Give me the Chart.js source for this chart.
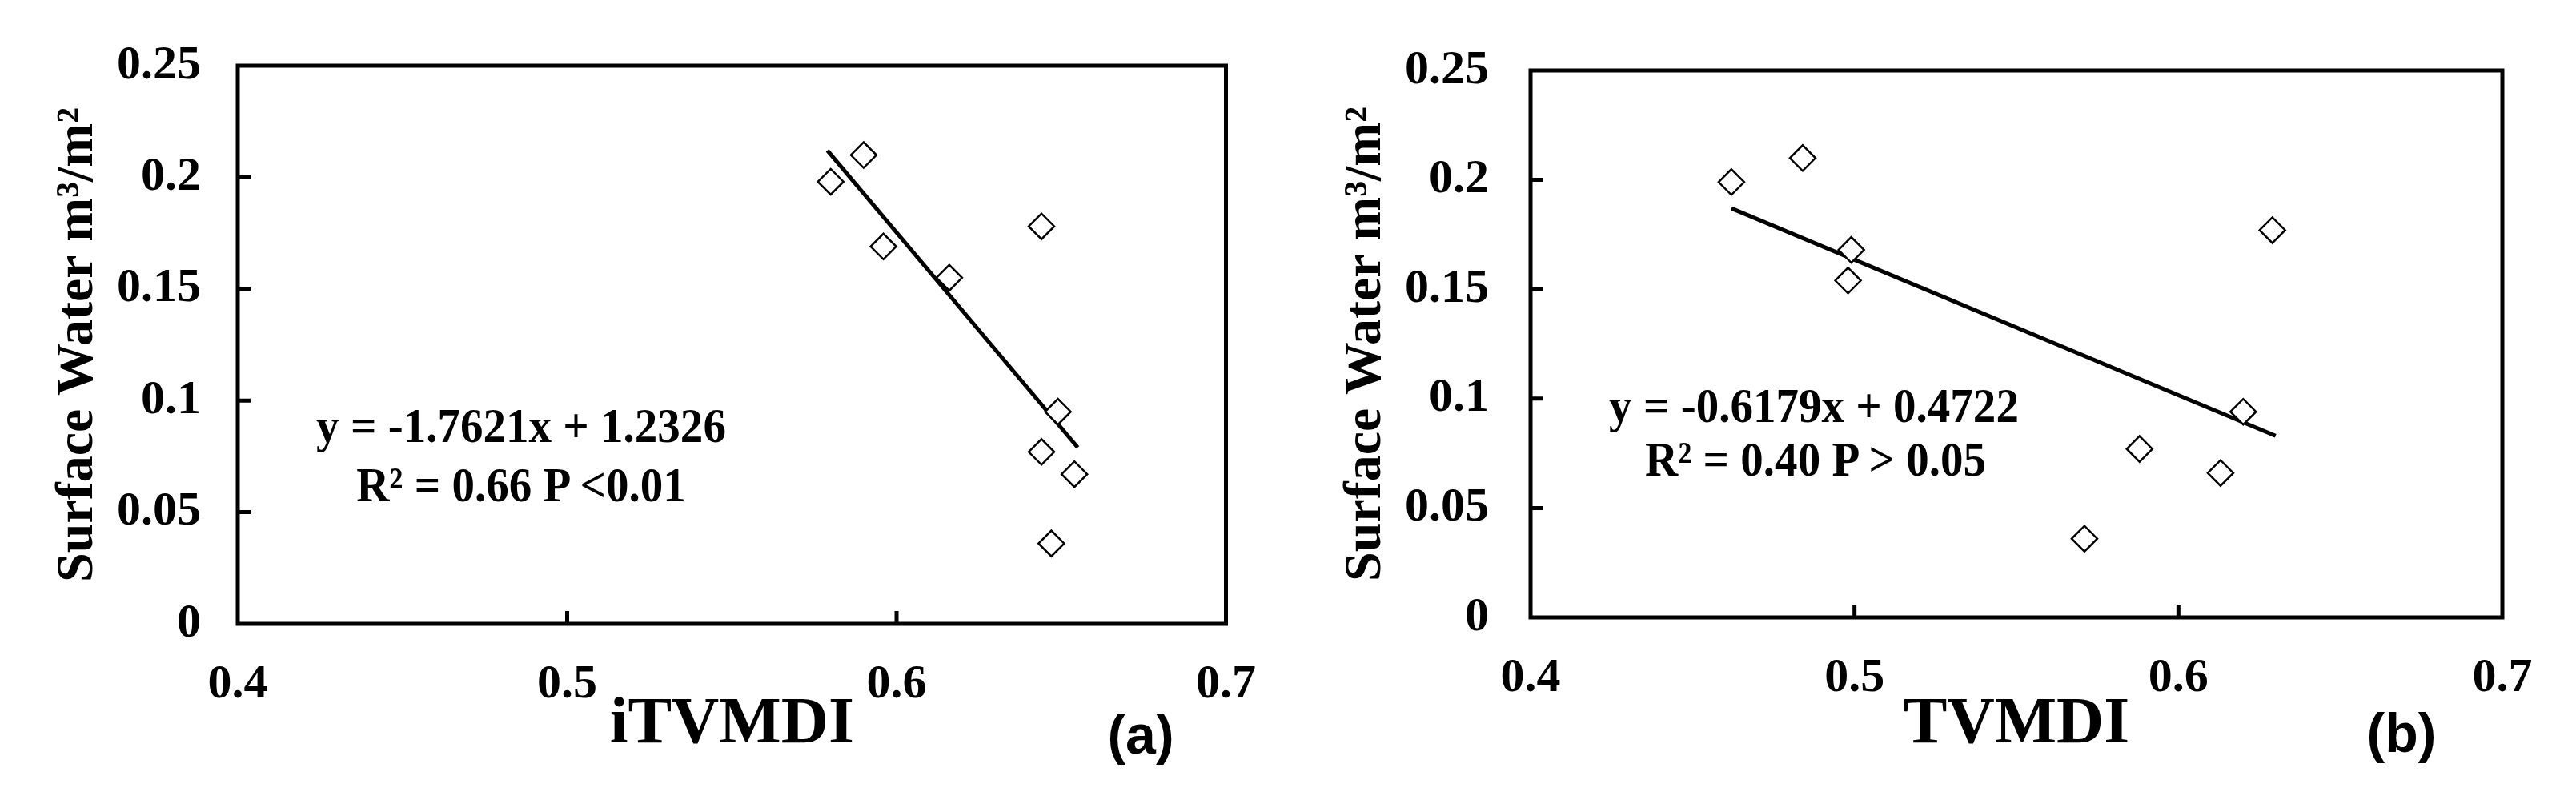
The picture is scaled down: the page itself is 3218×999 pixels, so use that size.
<!DOCTYPE html>
<html><head><meta charset="utf-8">
<script src="https://cdn.jsdelivr.net/npm/chart.js@4.4.1/dist/chart.umd.min.js"></script>
<style>
html,body{margin:0;padding:0;background:#fff;width:3218px;height:999px;overflow:hidden}
.box{position:absolute;top:0;width:1609px;height:999px}
.txt{position:absolute;font-family:"Liberation Serif",serif;font-weight:bold;font-size:62px;color:#000;white-space:nowrap;transform:translate(-50%,-50%) scaleX(0.92)}
.lab{position:absolute;font-family:"Liberation Sans",sans-serif;font-weight:bold;font-size:68px;color:#000;transform:translate(-50%,-50%)}
</style></head><body>
<div class="box" style="left:0"><canvas id="ca"></canvas></div>
<div class="box" style="left:1609px"><canvas id="cb"></canvas></div>
<div class="txt" style="left:651px;top:531px">y = -1.7621x + 1.2326</div>
<div class="txt" style="left:651px;top:605px">R² = 0.66 P &lt;0.01</div>
<div class="txt" style="left:2266px;top:506px">y = -0.6179x + 0.4722</div>
<div class="txt" style="left:2268px;top:573px">R² = 0.40 P &gt; 0.05</div>
<div class="lab" style="left:1425px;top:917px">(a)</div>
<div class="lab" style="left:3000px;top:915px">(b)</div>
<script>
const xTicks = [0.4, 0.5, 0.6, 0.7];
const yTicks = [0, 0.05, 0.1, 0.15, 0.2, 0.25];
const yLabels = ["0", "0.05", "0.1", "0.15", "0.2", "0.25"];

const itvmdiX = [0.580, 0.590, 0.596, 0.616, 0.644, 0.649, 0.644, 0.654, 0.647];
const waterA  = [0.198, 0.210, 0.169, 0.155, 0.178, 0.095, 0.077, 0.067, 0.036];
const trendAX = [0.579, 0.655];
const trendAY = [0.212, 0.079];

const tvmdiX  = [0.462, 0.484, 0.499, 0.498, 0.629, 0.620, 0.588, 0.613, 0.571];
const waterB  = [0.199, 0.210, 0.168, 0.154, 0.177, 0.094, 0.077, 0.066, 0.036];
const trendBX = [0.462, 0.630];
const trendBY = [0.187, 0.083];

const pts = (xs, ys) => xs.map((x, i) => ({x, y: ys[i]}));

const frame = {
  id: 'frame',
  afterDraw(c) {
    const {ctx, chartArea: a, scales} = c;
    ctx.save();
    ctx.strokeStyle = '#000'; ctx.lineWidth = 5;
    ctx.beginPath();
    xTicks.slice(1, -1).forEach(v => { const p = scales.x.getPixelForValue(v); ctx.moveTo(p, a.bottom); ctx.lineTo(p, a.bottom - 16); });
    yTicks.slice(1, -1).forEach(v => { const p = scales.y.getPixelForValue(v); ctx.moveTo(a.left, p); ctx.lineTo(a.left + 16, p); });
    ctx.stroke();
    ctx.strokeRect(a.left, a.top, a.right - a.left, a.bottom - a.top);
    ctx.restore();
  }
};

function make(id, xs, ys, tx, ty, title, pad, xH, yW, tickPad) {
  new Chart(document.getElementById(id), {
    data: { datasets: [
      { type: 'scatter', data: pts(xs, ys), pointStyle: 'rectRot', radius: 16, borderColor: '#000', backgroundColor: '#fff', borderWidth: 2.5 },
      { type: 'line', data: pts(tx, ty), borderColor: '#000', borderWidth: 5, pointRadius: 0, fill: false }
    ]},
    options: {
      responsive: false, animation: false, devicePixelRatio: 1,
      layout: { padding: pad },
      plugins: { legend: { display: false }, tooltip: { enabled: false } },
      scales: {
        x: { type: 'linear', min: 0.4, max: 0.7,
          afterBuildTicks: s => { s.ticks = xTicks.map(v => ({value: v})); },
          afterFit: s => { s.height = xH; },
          grid: { display: false, drawTicks: false }, border: { display: false },
          ticks: { padding: 40, color: '#000', font: { family: 'Liberation Serif', weight: 'bold', size: 60 }, callback: v => String(v) },
          title: { display: true, text: title, color: '#000', padding: { top: 0, bottom: 4 }, font: { family: 'Liberation Serif', weight: 'bold', size: 82 } } },
        y: { type: 'linear', min: 0, max: 0.25,
          afterBuildTicks: s => { s.ticks = yTicks.map(v => ({value: v})); },
          afterFit: s => { s.width = yW; },
          grid: { display: false, drawTicks: false }, border: { display: false },
          ticks: { padding: tickPad, color: '#000', font: { family: 'Liberation Serif', weight: 'bold', size: 60 }, callback: (v) => yLabels[yTicks.indexOf(v)] ?? String(v) },
          title: { display: true, text: 'Surface Water m³/m²', color: '#000', padding: 0, font: { family: 'Liberation Serif', weight: 'bold', size: 66 } } }
      }
    },
    plugins: [frame]
  });
}
document.getElementById('ca').width = 1609; document.getElementById('ca').height = 999;
document.getElementById('cb').width = 1609; document.getElementById('cb').height = 999;
make('ca', itvmdiX, waterA, trendAX, trendAY, 'iTVMDI', {left: 58, top: 77, right: 71, bottom: 40}, 180, 239, 46);
make('cb', tvmdiX, waterB, trendBX, trendBY, 'TVMDI', {left: 58, top: 66, right: 92, bottom: 40}, 188, 245, 52);
</script>
</body></html>
